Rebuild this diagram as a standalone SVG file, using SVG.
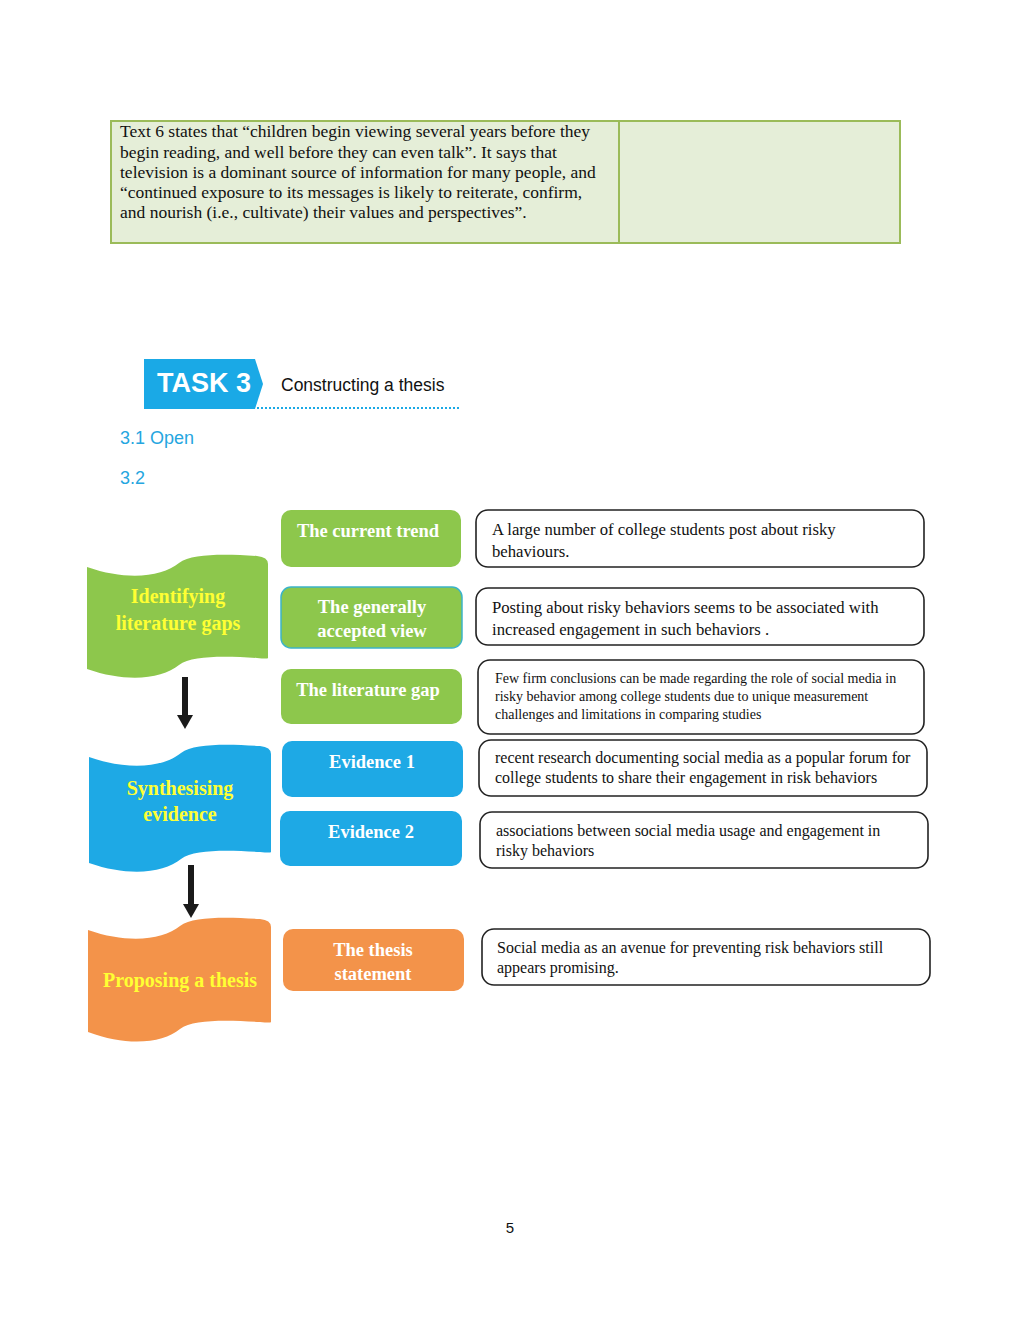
<svg xmlns="http://www.w3.org/2000/svg" width="1020" height="1320" viewBox="0 0 1020 1320">
<style>
.tbl{font-family:"Liberation Serif",serif;font-size:17.5px;fill:#111}
.blue{font-family:"Liberation Sans",Arial,sans-serif;font-size:18px;fill:#25a6df}
.flagt{font-family:"Liberation Serif",serif;font-weight:bold;font-size:20px;fill:#ffff33;text-anchor:middle}
.mid{font-family:"Liberation Serif",serif;font-weight:bold;font-size:18.5px;fill:#fff;text-anchor:middle}
.rbox{fill:#fff;stroke:#222;stroke-width:1.6}
.rt{font-family:"Liberation Serif",serif;font-size:16.7px;fill:#111}
.rc{font-family:"Liberation Serif",serif;font-size:16px;fill:#111}
.rs{font-family:"Liberation Serif",serif;font-size:14px;fill:#111}
.g{fill:#8dc74c}.b{fill:#1ea9e5}.o{fill:#f3934a}
.arr{stroke:#1a1a1a;stroke-width:6}
</style>
<defs>
<marker id="ah" viewBox="0 0 14 16" markerWidth="14" markerHeight="16" refX="0" refY="8" orient="auto" markerUnits="userSpaceOnUse"><path d="M0,0 L14,8 L0,16 Z" fill="#1a1a1a"/></marker>
</defs>
<rect width="1020" height="1320" fill="#fff"/>

<g id="table">
<rect x="111" y="121" width="789" height="122" fill="#e5eed8" stroke="#9bbb59" stroke-width="2"/>
<line x1="619" y1="121" x2="619" y2="243" stroke="#9bbb59" stroke-width="2"/>
<text class="tbl" x="120" y="137">Text 6 states that “children begin viewing several years before they</text>
<text class="tbl" x="120" y="158">begin reading, and well before they can even talk”. It says that</text>
<text class="tbl" x="120" y="178">television is a dominant source of information for many people, and</text>
<text class="tbl" x="120" y="198">“continued exposure to its messages is likely to reiterate, confirm,</text>
<text class="tbl" x="120" y="218">and nourish (i.e., cultivate) their values and perspectives”.</text>
</g>

<g id="task-header">
<path d="M144,359 L255,359 L263,384 L255,409 L144,409 Z" fill="#1aa9e6"/>
<text x="157" y="392" font-family="Liberation Sans,Arial,sans-serif" font-weight="bold" font-size="27" fill="#fff">TASK 3</text>
<text x="281" y="391" font-family="Liberation Sans,Arial,sans-serif" font-size="17.5" fill="#111">Constructing a thesis</text>
<line x1="257" y1="408" x2="460" y2="408" stroke="#1aa9e6" stroke-width="2" stroke-dasharray="2,2"/>
<text class="blue" x="120" y="444">3.1 Open</text>
<text class="blue" x="120" y="484">3.2</text>
</g>

<g id="flag-identifying">
<path class="g" d="M87,567 C127,581 162,577 179,563 C192,553 227,554 257,556 Q268,557 268,564 L268,658 Q268,659 257,658 C227,656 192,655 179,665 C162,679 127,683 87,669 Z"/>
<text class="flagt" x="178" y="603">Identifying</text>
<text class="flagt" x="178" y="630">literature gaps</text>
</g>
<g id="flag-synthesising">
<path class="b" d="M89,757 C129,771 164,767 181,753 C194,743 229,744 260,746 Q271,747 271,754 L271,852 Q271,853 260,852 C229,850 194,849 181,859 C164,873 129,877 89,863 Z"/>
<text class="flagt" x="180" y="795">Synthesising</text>
<text class="flagt" x="180" y="821">evidence</text>
</g>
<g id="flag-proposing">
<path class="o" d="M88,930 C128,944 163,940 180,926 C193,916 228,917 260,919 Q271,920 271,927 L271,1022 Q271,1023 260,1022 C228,1020 193,1019 180,1029 C163,1043 128,1047 88,1032 Z"/>
<text class="flagt" x="180" y="987">Proposing a thesis</text>
</g>

<g id="connectors">
<line class="arr" x1="185" y1="677" x2="185" y2="715" marker-end="url(#ah)"/>
<line class="arr" x1="191" y1="865" x2="191" y2="904" marker-end="url(#ah)"/>
</g>

<g id="mid-current-trend">
<rect class="g" x="281" y="510" width="180" height="57" rx="10"/>
<text class="mid" x="368" y="537">The current trend</text>
</g>
<g id="mid-generally-accepted">
<rect class="g" x="281" y="587" width="181" height="61" rx="10" stroke="#3cb4c8" stroke-width="1.5"/>
<text class="mid" x="372" y="613">The generally</text>
<text class="mid" x="372" y="637">accepted view</text>
</g>
<g id="mid-literature-gap">
<rect class="g" x="281" y="669" width="181" height="55" rx="10"/>
<text class="mid" x="368" y="696">The literature gap</text>
</g>
<g id="mid-evidence1">
<rect class="b" x="282" y="741" width="181" height="56" rx="10"/>
<text class="mid" x="372" y="768">Evidence 1</text>
</g>
<g id="mid-evidence2">
<rect class="b" x="280" y="811" width="182" height="55" rx="10"/>
<text class="mid" x="371" y="838">Evidence 2</text>
</g>
<g id="mid-thesis">
<rect class="o" x="283" y="929" width="181" height="62" rx="10"/>
<text class="mid" x="373" y="956">The thesis</text>
<text class="mid" x="373" y="980">statement</text>
</g>

<g id="box-trend">
<rect class="rbox" x="476" y="510" width="448" height="57" rx="12"/>
<text class="rt" x="492" y="535">A large number of college students post about risky</text>
<text class="rt" x="492" y="557">behaviours.</text>
</g>
<g id="box-view">
<rect class="rbox" x="476" y="588" width="448" height="57" rx="12"/>
<text class="rt" x="492" y="613">Posting about risky behaviors seems to be associated with</text>
<text class="rt" x="492" y="635">increased engagement in such behaviors .</text>
</g>
<g id="box-gap">
<rect class="rbox" x="478" y="660" width="446" height="74" rx="12"/>
<text class="rs" x="495" y="683">Few firm conclusions can be made regarding the role of social media in</text>
<text class="rs" x="495" y="701">risky behavior among college students due to unique measurement</text>
<text class="rs" x="495" y="719">challenges and limitations in comparing studies</text>
</g>
<g id="box-evidence1">
<rect class="rbox" x="479" y="740" width="448" height="56" rx="12"/>
<text class="rc" x="495" y="763">recent research documenting social media as a popular forum for</text>
<text class="rc" x="495" y="783">college students to share their engagement in risk behaviors</text>
</g>
<g id="box-evidence2">
<rect class="rbox" x="480" y="812" width="448" height="56" rx="12"/>
<text class="rc" x="496" y="836">associations between social media usage and engagement in</text>
<text class="rc" x="496" y="856">risky behaviors</text>
</g>
<g id="box-thesis">
<rect class="rbox" x="482" y="929" width="448" height="56" rx="12"/>
<text class="rc" x="497" y="953">Social media as an avenue for preventing risk behaviors still</text>
<text class="rc" x="497" y="973">appears promising.</text>
</g>

<text x="510" y="1233" font-family="Liberation Sans,Arial,sans-serif" font-size="15" fill="#111" text-anchor="middle">5</text>
</svg>
